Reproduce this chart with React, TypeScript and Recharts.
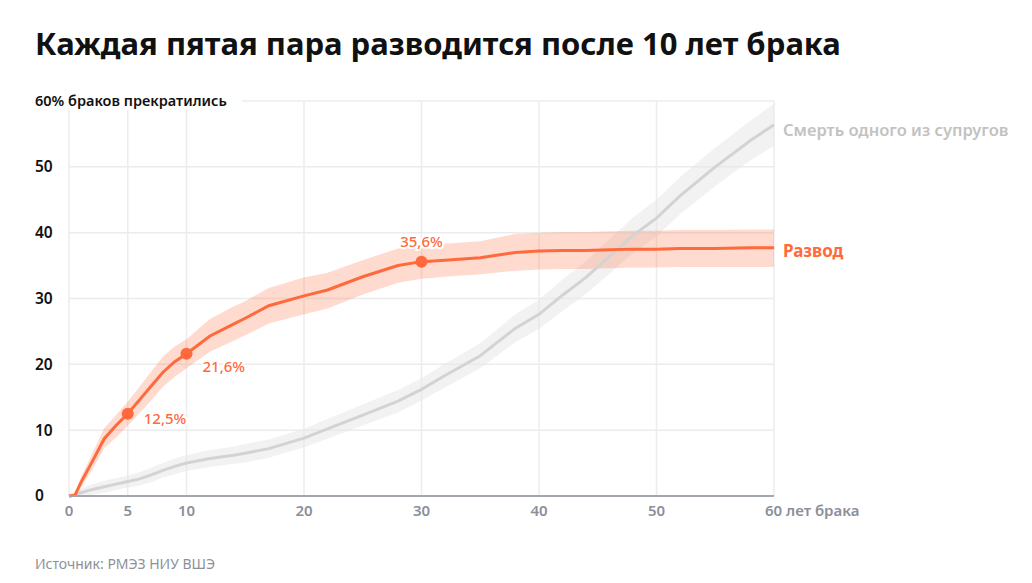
import React from "react";
import {
  ComposedChart,
  Line,
  Area,
  XAxis,
  YAxis,
  CartesianGrid,
} from "recharts";

// years since marriage
const years = [0, 0.5, 1, 2, 3, 4, 5, 6, 7, 8, 9, 10, 12, 14, 15, 17, 20, 22, 25, 28, 30, 32, 35, 38, 40, 42, 44, 46, 48, 50, 52, 55, 58, 60];

// divorce, % of marriages
const divorce = [0, 0.1, 2.0, 5.3, 8.7, 10.7, 12.5, 14.6, 16.7, 18.8, 20.4, 21.6, 24.3, 26.1, 27.0, 28.9, 30.4, 31.3, 33.3, 35.0, 35.6, 35.8, 36.2, 37.0, 37.2, 37.3, 37.3, 37.4, 37.5, 37.5, 37.6, 37.6, 37.7, 37.7];
const divorceLow = [0, 0, 1.2, 4.1, 7.3, 8.9, 10.7, 12.6, 14.5, 16.6, 18.1, 19.4, 21.9, 23.6, 24.4, 26.2, 27.6, 28.5, 30.6, 32.4, 33.0, 33.3, 33.7, 34.2, 34.4, 34.5, 34.5, 34.6, 34.7, 34.7, 34.8, 34.8, 34.8, 34.8];
const divorceHigh = [0, 0.3, 2.8, 6.5, 10.3, 12.3, 14.3, 16.6, 18.9, 21.2, 22.7, 23.8, 26.9, 28.8, 29.6, 31.6, 33.2, 33.9, 35.8, 37.6, 38.0, 38.3, 38.7, 39.8, 40.0, 40.1, 40.1, 40.2, 40.3, 40.3, 40.4, 40.4, 40.5, 40.5];

// death of one of the spouses, %
const death = [0, 0.2, 0.5, 1.0, 1.4, 1.8, 2.2, 2.6, 3.2, 3.9, 4.5, 5.0, 5.7, 6.2, 6.5, 7.2, 8.8, 10.2, 12.3, 14.4, 16.2, 18.3, 21.3, 25.5, 27.6, 30.5, 33.2, 36.4, 39.6, 42.2, 45.6, 50.0, 54.0, 56.4];
const deathLow = [0, 0, 0, 0.2, 0.5, 0.9, 1.3, 1.6, 2.1, 2.8, 3.3, 3.8, 4.4, 4.9, 5.1, 5.8, 7.4, 8.7, 10.7, 12.7, 14.5, 16.5, 19.4, 23.4, 25.4, 28.1, 30.7, 33.8, 36.9, 39.4, 42.8, 47.1, 51.0, 53.2];
const deathHigh = [0, 0.5, 1.1, 1.8, 2.3, 2.7, 3.1, 3.6, 4.3, 5.0, 5.7, 6.2, 7.0, 7.5, 7.9, 8.6, 10.2, 11.7, 13.9, 16.1, 17.9, 20.1, 23.2, 27.6, 29.8, 32.9, 35.7, 39.0, 42.3, 45.0, 48.4, 52.9, 57.0, 59.6];

const seriesNames = ["Развод", "Смерть одного из супругов"];
const highlightYears = [5, 10, 30];
const highlightLabels = ["12,5%", "21,6%", "35,6%"];

const xTicks = [0, 5, 10, 20, 30, 40, 50, 60];
const yTicks = [0, 10, 20, 30, 40, 50, 60];
const xLastLabel = "60 лет брака";
const yTopLabel = "60% браков прекратились";

const title = "Каждая пятая пара разводится после 10 лет брака";
const source = "Источник: РМЭЗ НИУ ВШЭ";

const data = years.map((year, i) => ({
  year,
  divorce: divorce[i],
  divorceBand: [divorceLow[i], divorceHigh[i]],
  death: death[i],
  deathBand: [deathLow[i], deathHigh[i]],
}));

const ORANGE = "#ff6a3d";
const GREY_LINE = "#d3d3d3";
const FONT = "'Noto Sans', sans-serif";

const XTick = (props: any) => {
  const { x, y, payload } = props;
  const last = payload.value === 60;
  return (
    <text
      x={last ? x - 9 : x}
      y={y + 12}
      textAnchor={last ? "start" : "middle"}
      fill="#8b8f99"
      fontSize={15}
      fontWeight={600}
      fontFamily={FONT}
    >
      {last ? xLastLabel : payload.value}
    </text>
  );
};

const YTick = (props: any) => {
  const { y, payload } = props;
  if (payload.value === 60) {
    return (
      <g>
        <rect x={30} y={y - 13} width={212} height={22} fill="#fff" />
        <text x={35} y={y} dy="0.35em" fill="#111" fontSize={14.5} fontWeight={600} fontFamily={FONT}>
          {yTopLabel}
        </text>
      </g>
    );
  }
  return (
    <text x={35} y={y} dy="0.35em" fill="#111" fontSize={15.5} fontWeight={600} fontFamily={FONT}>
      {payload.value}
    </text>
  );
};

// label offsets next to the highlighted points
const labelShift = [
  { dx: 16, dy: 5, anchor: "start" },
  { dx: 16, dy: 13, anchor: "start" },
  { dx: 0, dy: -20, anchor: "middle" },
];

const divorceDot = (props: any) => {
  const { cx, cy, index, payload } = props;
  const h = highlightYears.indexOf(payload.year);
  if (index === years.length - 1) {
    return (
      <text key={`dv-${index}`} x={cx + 9} y={cy + 3} dy="0.35em" fill={ORANGE} fontSize={17} fontWeight={700} fontFamily={FONT}>
        {seriesNames[0]}
      </text>
    );
  }
  if (h < 0) return <g key={`dv-${index}`} />;
  const s = labelShift[h];
  return (
    <g key={`dv-${index}`}>
      <circle cx={cx} cy={cy} r={6} fill={ORANGE} />
      <text
        x={cx + s.dx}
        y={cy + s.dy}
        dy="0.35em"
        textAnchor={s.anchor as any}
        fill={ORANGE}
        stroke="#fff"
        strokeWidth={4}
        paintOrder="stroke"
        fontSize={15}
        fontWeight={500}
        fontFamily={FONT}
      >
        {highlightLabels[h]}
      </text>
    </g>
  );
};

const deathDot = (props: any) => {
  const { cx, cy, index } = props;
  if (index !== years.length - 1) return <g key={`dt-${index}`} />;
  return (
    <text key={`dt-${index}`} x={cx + 9} y={cy + 6} dy="0.35em" fill="#c2c2c2" fontSize={16.5} fontWeight={600} fontFamily={FONT}>
      {seriesNames[1]}
    </text>
  );
};

export default function App() {
  return (
    <div style={{ position: "absolute", left: 0, top: 0, width: 1032, height: 583, background: "#fff", fontFamily: FONT }}>
      <div style={{ position: "absolute", left: 35, top: 22, fontSize: 31, fontWeight: 700, color: "#111", whiteSpace: "nowrap" }}>
        {title}
      </div>
      <ComposedChart
        width={1032}
        height={583}
        data={data}
        margin={{ top: 101, right: 258, bottom: 57, left: 0 }}
      >
        <CartesianGrid stroke="#ececec" strokeWidth={1.5} />
        <XAxis
          dataKey="year"
          type="number"
          domain={[0, 60]}
          ticks={xTicks}
          interval={0}
          height={30}
          tickLine={false}
          axisLine={{ stroke: "#a3a6ad", strokeWidth: 2 }}
          tick={<XTick />}
        />
        <YAxis
          type="number"
          domain={[0, 60]}
          ticks={yTicks}
          interval={0}
          width={69}
          tickLine={false}
          axisLine={false}
          tick={<YTick />}
        />
        <Area
          dataKey="deathBand"
          type="linear"
          stroke="none"
          fill="#e6e6e6"
          fillOpacity={0.5}
          isAnimationActive={false}
          activeDot={false}
        />
        <Line
          dataKey="death"
          type="linear"
          stroke={GREY_LINE}
          strokeWidth={3}
          dot={deathDot}
          activeDot={false}
          isAnimationActive={false}
        />
        <Area
          dataKey="divorceBand"
          type="linear"
          stroke="none"
          fill={ORANGE}
          fillOpacity={0.25}
          isAnimationActive={false}
          activeDot={false}
        />
        <Line
          dataKey="divorce"
          type="linear"
          stroke={ORANGE}
          strokeWidth={3}
          dot={divorceDot}
          activeDot={false}
          isAnimationActive={false}
        />
      </ComposedChart>
      <div style={{ position: "absolute", left: 35, top: 554, fontSize: 14, color: "#8d9099", whiteSpace: "nowrap" }}>
        {source}
      </div>
    </div>
  );
}
